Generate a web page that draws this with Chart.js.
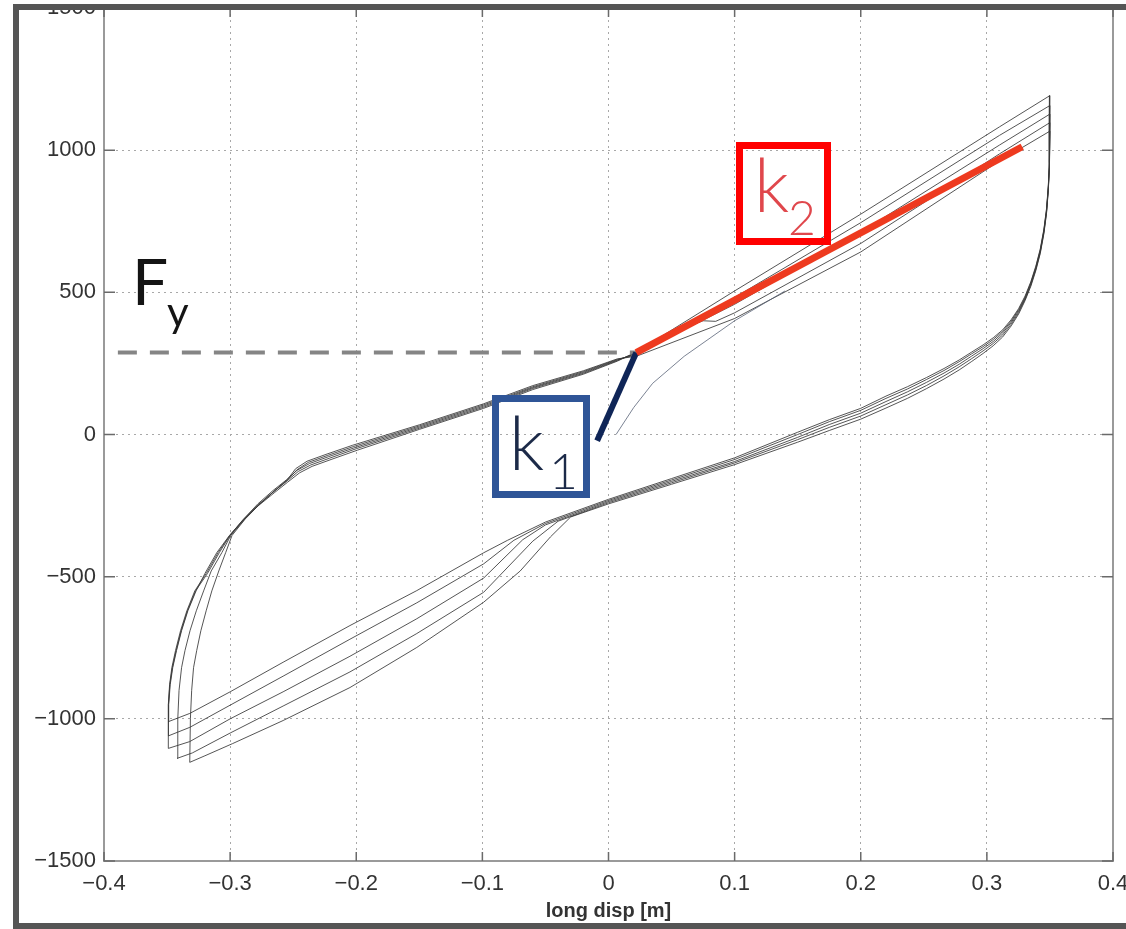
<!DOCTYPE html>
<html><head><meta charset="utf-8">
<script src="https://cdn.jsdelivr.net/npm/chart.js@4.4.0/dist/chart.umd.min.js"></script>
<style>html,body{margin:0;padding:0;background:#fff;overflow:hidden}canvas{display:block}</style>
</head><body>
<canvas id="c" width="1126" height="929"></canvas>
<script>
// ---- tick values ----
const xTicks = [-0.4, -0.3, -0.2, -0.1, 0, 0.1, 0.2, 0.3, 0.4];
const yTicks = [-1500, -1000, -500, 0, 500, 1000, 1500];

// ---- hysteresis loops: [long disp (m), force] ----
const loop1 = [[-0.349,-1010],[-0.3487,-950],[-0.3475,-880],[-0.3455,-820],[-0.3425,-760],[-0.3385,-690],[-0.3335,-620],[-0.3270,-550],[-0.3200,-489],[-0.3105,-415],[-0.3005,-355],[-0.2895,-300],[-0.2775,-250],[-0.2650,-205],[-0.2545,-168],[-0.2450,-135],[-0.2350,-112],[-0.2200,-88],[-0.1990,-55],
  [-0.150,18],[-0.099,92],[-0.060,158],[-0.020,212],[0.007,258],[0.022,290],
  [0.100,505],[0.200,775],[0.310,1082],[0.350,1192],
  [0.3498,1060],[0.3494,960],[0.3487,875],[0.3473,795],[0.3452,722],[0.3423,652],[0.3388,592],[0.3348,537],[0.3303,487],[0.3252,443],[0.3193,404],[0.3125,368],[0.3050,340],[0.2970,315],[0.2880,290],[0.2780,262],[0.2660,232],[0.2520,200],[0.2370,168],[0.2200,135],[0.2000,92],[0.1750,52],[0.1500,8],
  [0.100,-82],[0.050,-155],[0.000,-228],[-0.050,-308],[-0.080,-372],[-0.099,-416],[-0.152,-549],[-0.205,-672],[-0.258,-801],[-0.300,-905],[-0.332,-981],[-0.349,-1010]];
const loop2 = [[-0.349,-1060],[-0.3489,-950],[-0.3478,-880],[-0.3458,-820],[-0.3428,-760],[-0.3388,-690],[-0.3338,-620],[-0.3274,-550],[-0.3180,-489],[-0.3085,-415],[-0.3000,-355],[-0.2890,-298],[-0.2778,-247],[-0.2655,-201],[-0.2550,-164],[-0.2460,-130],[-0.2360,-107],[-0.2210,-83],[-0.2000,-50],
  [-0.150,22],[-0.099,96],[-0.060,162],[-0.020,215],[0.007,260],[0.022,288],
  [0.100,482],[0.200,745],[0.310,1052],[0.350,1157],
  [0.3498,1040],[0.3494,955],[0.3487,870],[0.3473,790],[0.3452,718],[0.3423,648],[0.3388,588],[0.3348,533],[0.3303,483],[0.3252,439],[0.3193,399],[0.3125,363],[0.3050,334],[0.2970,309],[0.2880,284],[0.2780,256],[0.2660,225],[0.2520,193],[0.2370,160],[0.2200,127],[0.2000,85],[0.1750,45],[0.1500,0],
  [0.100,-88],[0.050,-160],[0.000,-232],[-0.050,-313],[-0.075,-372],[-0.099,-455],[-0.152,-592],[-0.205,-720],[-0.258,-850],[-0.300,-952],[-0.332,-1030],[-0.349,-1060]];
const loop3 = [[-0.349,-1104],[-0.3490,-950],[-0.3480,-880],[-0.3462,-820],[-0.3433,-760],[-0.3393,-690],[-0.3343,-620],[-0.3280,-550],[-0.3190,-489],[-0.3095,-415],[-0.3003,-355],[-0.2893,-297],[-0.2780,-244],[-0.2660,-197],[-0.2555,-160],[-0.2470,-126],[-0.2370,-102],[-0.2220,-78],[-0.2010,-46],
  [-0.150,26],[-0.099,100],[-0.060,165],[-0.020,218],[0.007,262],[0.022,285],
  [0.100,458],[0.200,712],[0.310,1018],[0.350,1127],
  [0.3498,1030],[0.3494,950],[0.3487,866],[0.3473,786],[0.3452,714],[0.3423,644],[0.3388,584],[0.3348,529],[0.3303,479],[0.3252,434],[0.3193,394],[0.3125,357],[0.3050,327],[0.2970,302],[0.2880,276],[0.2780,247],[0.2660,216],[0.2520,183],[0.2370,150],[0.2200,116],[0.2000,75],[0.1750,35],[0.1500,-10],
  [0.100,-95],[0.050,-165],[0.000,-236],[-0.050,-318],[-0.068,-370],[-0.099,-505],[-0.152,-648],[-0.205,-780],[-0.258,-905],[-0.300,-1000],[-0.332,-1080],[-0.349,-1104]];
const loop4 = [[-0.342,-1139],[-0.3415,-1000],[-0.3405,-900],[-0.3385,-820],[-0.3358,-760],[-0.3318,-690],[-0.3268,-620],[-0.3210,-550],[-0.3150,-480],[-0.3065,-415],[-0.2995,-355],[-0.2885,-298],[-0.2770,-246],[-0.2650,-199],[-0.2545,-160],[-0.2470,-124],[-0.2380,-98],[-0.2230,-74],[-0.2020,-42],
  [-0.150,30],[-0.099,104],[-0.060,168],[-0.020,221],[0.007,264],[0.022,280],
  [0.060,375],[0.075,400],[0.085,398],[0.100,428],[0.200,672],[0.310,987],[0.350,1097],
  [0.3498,1020],[0.3494,945],[0.3487,862],[0.3473,782],[0.3452,710],[0.3423,640],[0.3388,580],[0.3348,525],[0.3303,475],[0.3252,429],[0.3193,388],[0.3125,350],[0.3050,320],[0.2970,294],[0.2880,267],[0.2780,238],[0.2660,206],[0.2520,172],[0.2370,139],[0.2200,105],[0.2000,65],[0.1750,25],[0.1500,-18],
  [0.100,-100],[0.050,-170],[0.000,-240],[-0.040,-305],[-0.060,-375],[-0.099,-555],[-0.152,-700],[-0.205,-835],[-0.258,-955],[-0.300,-1050],[-0.330,-1120],[-0.342,-1139]];
const loop5 = [[-0.332,-1153],[-0.3315,-1000],[-0.3305,-900],[-0.3290,-820],[-0.3265,-760],[-0.3232,-690],[-0.3190,-620],[-0.3145,-550],[-0.3090,-480],[-0.3035,-415],[-0.2985,-355],[-0.2880,-297],[-0.2765,-245],[-0.2648,-198],[-0.2545,-158],[-0.2480,-120],[-0.2390,-94],[-0.2240,-70],[-0.2030,-38],
  [-0.150,34],[-0.099,108],[-0.060,172],[-0.020,224],[0.007,266],[0.022,275],
  [0.100,408],[0.200,642],[0.310,962],[0.350,1067],
  [0.3498,1010],[0.3494,940],[0.3487,858],[0.3473,778],[0.3452,706],[0.3423,636],[0.3388,576],[0.3348,521],[0.3303,471],[0.3252,424],[0.3193,382],[0.3125,343],[0.3050,312],[0.2970,285],[0.2880,257],[0.2780,227],[0.2660,195],[0.2520,161],[0.2370,127],[0.2200,93],[0.2000,54],[0.1750,14],[0.1500,-27],
  [0.100,-106],[0.050,-175],[0.000,-244],[-0.030,-290],[-0.046,-360],[-0.070,-480],[-0.099,-590],[-0.152,-749],[-0.205,-890],[-0.258,-1006],[-0.298,-1087],[-0.320,-1130],[-0.332,-1153]];
const virgin = [[0.006,0],[0.020,95],[0.035,180],[0.060,275],[0.100,400],[0.140,505]];

// ---- annotation lines ----
const fyLine = [[-0.389,288],[0.022,288]];
const k1Line = [[-0.009,-22],[0.022,288]];
const k2Line = [[0.022,288],[0.328,1012]];

const toXY = a => a.map(p => ({x: p[0], y: p[1]}));
const minus = '\u2212';
const fmtX = v => v === 0 ? '0' : (v < 0 ? minus : '') + Math.abs(v).toFixed(1);
const fmtY = v => v === 0 ? '0' : (v < 0 ? minus : '') + Math.abs(v);

const loopStyle = {showLine: true, borderColor: 'rgba(55,55,55,0.85)', borderWidth: 1, pointRadius: 0, fill: false, tension: 0, borderJoinStyle: 'round'};

const decor = {
  id: 'decor',
  beforeDraw(chart) {
    const ctx = chart.ctx;
    ctx.save(); ctx.fillStyle = '#fff'; ctx.fillRect(0, 0, chart.width, chart.height); ctx.restore();
  },
  afterDatasetsDraw(chart) {
    const {ctx, chartArea: a, scales: {x, y}} = chart;
    ctx.save();
    ctx.strokeStyle = '#9a9a9a'; ctx.lineWidth = 2;
    ctx.strokeRect(a.left, a.top, a.right - a.left, a.bottom - a.top);
    ctx.strokeStyle = '#6a6a6a'; ctx.lineWidth = 1.5;
    ctx.beginPath();
    xTicks.forEach(v => { const px = x.getPixelForValue(v);
      ctx.moveTo(px, a.bottom); ctx.lineTo(px, a.bottom - 9);
      ctx.moveTo(px, a.top); ctx.lineTo(px, a.top + 9); });
    yTicks.forEach(v => { const py = y.getPixelForValue(v);
      ctx.moveTo(a.left, py); ctx.lineTo(a.left + 11, py);
      ctx.moveTo(a.right, py); ctx.lineTo(a.right - 11, py); });
    ctx.stroke();
    // F_y label
    ctx.fillStyle = '#141414'; ctx.textBaseline = 'alphabetic'; ctx.textAlign = 'left';
    ctx.font = '400 64px Lato'; ctx.fillText('F', 132, 305);
    ctx.font = '400 42px Lato'; ctx.fillText('y', 167, 327);
    // k1 box
    ctx.strokeStyle = '#2f5597'; ctx.lineWidth = 7;
    ctx.strokeRect(495.5, 398.5, 91, 96);
    ctx.fillStyle = '#1c2a48';
    ctx.font = '300 74px Lato'; ctx.fillText('k', 509, 470);
    ctx.font = '300 50px Lato'; ctx.fillText('1', 549, 489);
    // k2 box
    ctx.strokeStyle = '#ff0000'; ctx.lineWidth = 7;
    ctx.strokeRect(739.5, 145.5, 88, 96);
    ctx.fillStyle = '#e0474c';
    ctx.font = '300 74px Lato'; ctx.fillText('k', 754, 212);
    ctx.font = '300 48px Lato'; ctx.fillText('2', 788, 235);
    ctx.restore();
  },
  afterDraw(chart) {
    const ctx = chart.ctx, W = chart.width, H = chart.height;
    ctx.save();
    ctx.fillStyle = '#fff'; ctx.fillRect(0, 0, W, 4); ctx.fillRect(0, 0, 13, H);
    ctx.fillStyle = '#555';
    ctx.fillRect(13, 4, W - 13, 6);
    ctx.fillRect(13, 4, 6, H - 4);
    ctx.fillRect(13, 923, W - 13, 6);
    ctx.restore();
  }
};

new Chart(document.getElementById('c'), {
  type: 'scatter',
  data: {
    datasets: [
      {data: toXY(k2Line), showLine: true, borderColor: '#ee3a1f', borderWidth: 7, pointRadius: 0, borderCapStyle: 'butt'},
      {data: toXY(k1Line), showLine: true, borderColor: '#0f2557', borderWidth: 6, pointRadius: 0},
      {data: toXY(fyLine), showLine: true, borderColor: '#858585', borderWidth: 4, borderDash: [19, 13], pointRadius: 0},
      Object.assign({data: toXY(virgin)}, loopStyle, {borderColor: 'rgba(90,100,120,0.8)'}),
      Object.assign({data: toXY(loop1)}, loopStyle),
      Object.assign({data: toXY(loop2)}, loopStyle),
      Object.assign({data: toXY(loop3)}, loopStyle),
      Object.assign({data: toXY(loop4)}, loopStyle),
      Object.assign({data: toXY(loop5)}, loopStyle)
    ]
  },
  options: {
    responsive: false, animation: false, devicePixelRatio: 1,
    layout: {padding: {left: 0, right: 13, top: 8, bottom: 0}},
    plugins: {legend: {display: false}, tooltip: {enabled: false}},
    scales: {
      x: {
        type: 'linear', position: 'bottom', min: -0.4, max: 0.4,
        afterBuildTicks: s => { s.ticks = xTicks.map(v => ({value: v})); },
        afterFit: s => { s.height = 68; s.paddingLeft = 0; s.paddingRight = 0; },
        grid: {color: '#a8a8a8', lineWidth: 1, drawTicks: false},
        border: {display: false, dash: [2, 4]},
        ticks: {color: '#333', font: {family: 'Liberation Sans', size: 22}, padding: 10, maxRotation: 0, autoSkip: false, callback: v => fmtX(v)},
        title: {display: true, text: 'long disp [m]', color: '#333', font: {family: 'Liberation Sans', size: 20, weight: 'bold'}, padding: {top: 0, bottom: 6}}
      },
      y: {
        type: 'linear', position: 'left', min: -1500, max: 1500,
        afterBuildTicks: s => { s.ticks = yTicks.map(v => ({value: v})); },
        afterFit: s => { s.width = 104; s.paddingTop = 0; s.paddingBottom = 0; },
        grid: {color: '#a8a8a8', lineWidth: 1, drawTicks: false},
        border: {display: false, dash: [2, 4]},
        ticks: {color: '#333', font: {family: 'Liberation Sans', size: 22}, padding: 8, autoSkip: false, callback: v => fmtY(v)}
      }
    }
  },
  plugins: [decor]
});
</script>
</body></html>
